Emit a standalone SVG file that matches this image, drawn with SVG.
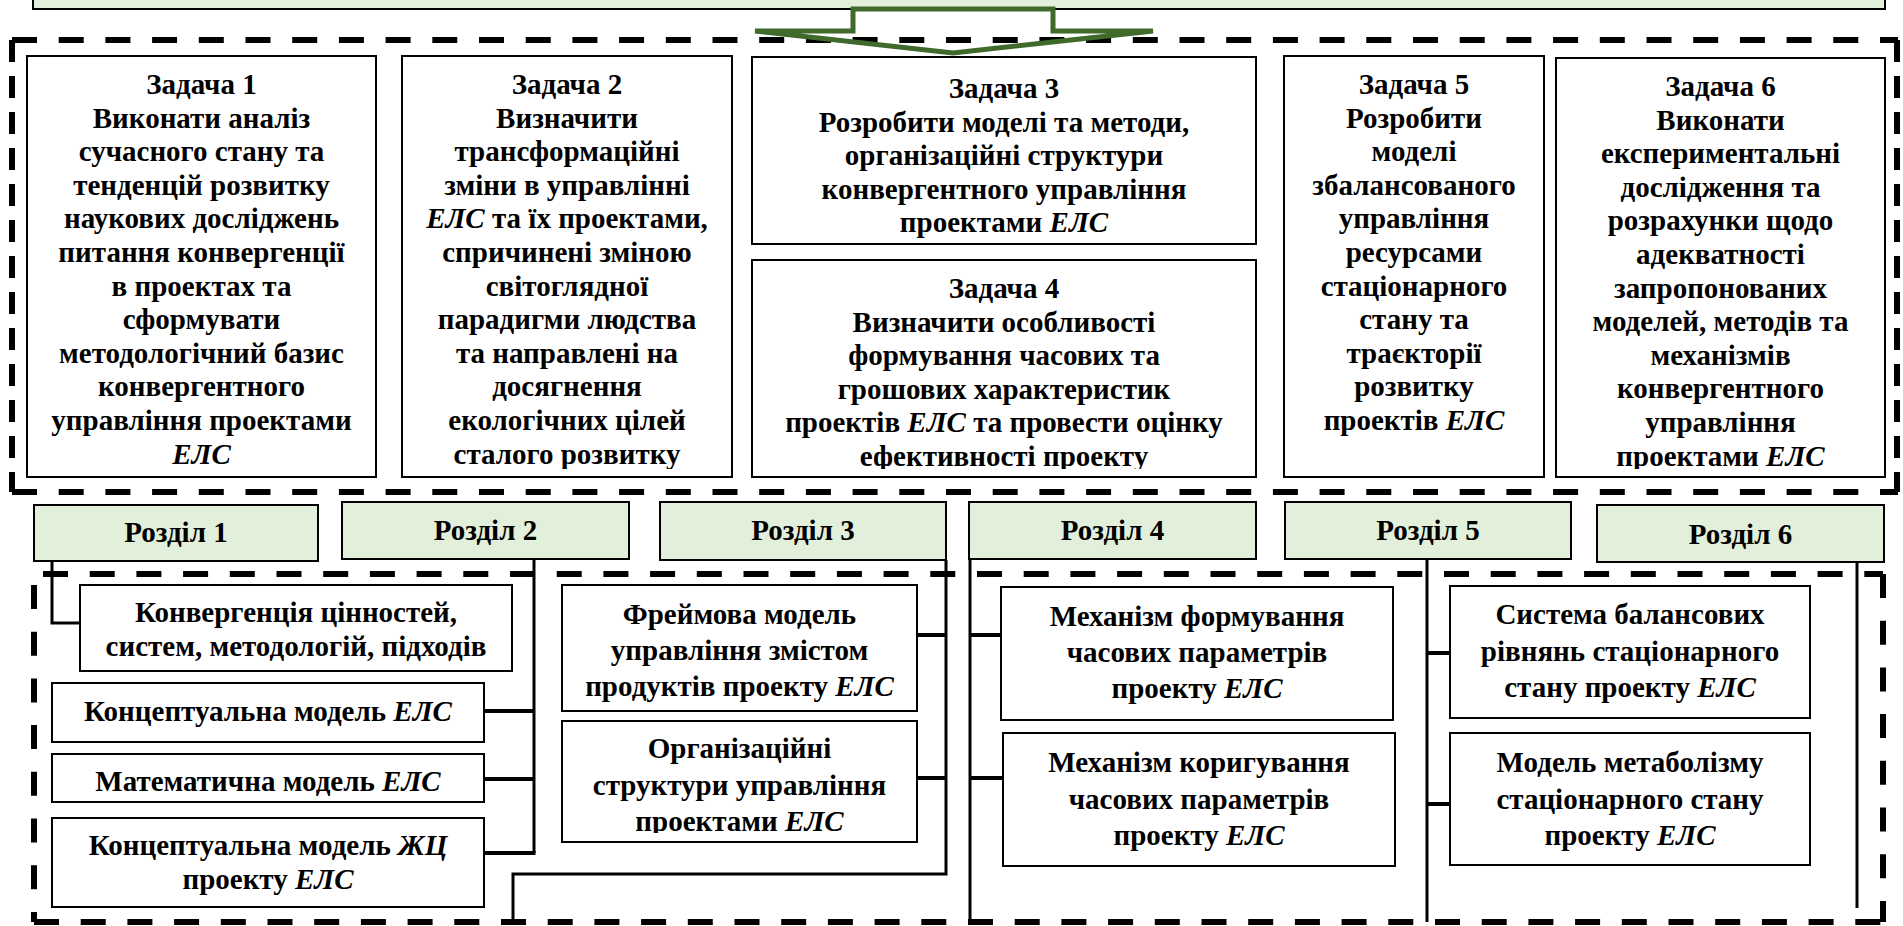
<svg xmlns="http://www.w3.org/2000/svg" width="1903" height="926" viewBox="0 0 1903 926">
<style>
.box{fill:#fff;stroke:#000;stroke-width:2}
.gbox{fill:#e2efda;stroke:#000;stroke-width:2}
.t{font-family:"Liberation Serif","Times New Roman",serif;font-weight:bold;font-size:29px;text-anchor:middle;fill:#000}
.i{font-style:italic}
.dh{stroke:#000;stroke-width:6;stroke-dasharray:25 21.7;fill:none}
.dv1{stroke:#000;stroke-width:6;stroke-dasharray:22 14;fill:none}
.dv2{stroke:#000;stroke-width:6;stroke-dasharray:24 22.7;fill:none}
.c{stroke:#000;stroke-width:3;fill:none}
.s{stroke:#000;stroke-width:4;fill:none}
</style>
<defs>
<clipPath id="clipTask"><rect x="0" y="0" width="1903" height="469"/></clipPath>
<clipPath id="clipOrg"><rect x="0" y="700" width="1903" height="133"/></clipPath>
</defs>

<g id="top-box"><rect class="gbox" x="33" y="-10" width="1852" height="19"/></g>

<g id="frames">
<line class="dh" x1="12" y1="40" x2="1898" y2="40"/>
<line class="dh" x1="12" y1="492" x2="1898" y2="492"/>
<line class="dv1" x1="12" y1="40" x2="12" y2="492"/>
<line class="dv1" x1="1897" y1="40" x2="1897" y2="492"/>
<line class="dh" x1="34" y1="574" x2="1883" y2="574" style="stroke-dashoffset:-9"/>
<line class="dh" x1="34" y1="922" x2="1883" y2="922"/>
<line class="dv2" x1="34" y1="585" x2="34" y2="922"/>
<line class="dv2" x1="1883" y1="574" x2="1883" y2="922"/>
</g>

<g id="arrow"><polygon points="853,9 1053,9 1053,31 1153,31 953,53 755,31 853,31" fill="none" stroke="#3f6a2b" stroke-width="5" stroke-linejoin="miter"/></g>

<g id="task1">
<rect class="box" x="27" y="56" width="349" height="421"/>
<text class="t" clip-path="url(#clipTask)"><tspan x="201.5" y="94">Задача 1</tspan><tspan x="201.5" dy="33.6">Виконати аналіз</tspan><tspan x="201.5" dy="33.6">сучасного стану та</tspan><tspan x="201.5" dy="33.6">тенденцій розвитку</tspan><tspan x="201.5" dy="33.6">наукових досліджень</tspan><tspan x="201.5" dy="33.6">питання конвергенції</tspan><tspan x="201.5" dy="33.6">в проектах та</tspan><tspan x="201.5" dy="33.6">сформувати</tspan><tspan x="201.5" dy="33.6">методологічний базис</tspan><tspan x="201.5" dy="33.6">конвергентного</tspan><tspan x="201.5" dy="33.6">управління проектами</tspan><tspan x="201.5" dy="33.6" class="i">ЕЛС</tspan></text>
</g>

<g id="task2">
<rect class="box" x="402" y="56" width="330" height="421"/>
<text class="t" clip-path="url(#clipTask)"><tspan x="567" y="94">Задача 2</tspan><tspan x="567" dy="33.6">Визначити</tspan><tspan x="567" dy="33.6">трансформаційні</tspan><tspan x="567" dy="33.6">зміни в управлінні</tspan><tspan x="567" dy="33.6"><tspan class="i">ЕЛС</tspan> та їх проектами,</tspan><tspan x="567" dy="33.6">спричинені зміною</tspan><tspan x="567" dy="33.6">світоглядної</tspan><tspan x="567" dy="33.6">парадигми людства</tspan><tspan x="567" dy="33.6">та направлені на</tspan><tspan x="567" dy="33.6">досягнення</tspan><tspan x="567" dy="33.6">екологічних цілей</tspan><tspan x="567" dy="33.6">сталого розвитку</tspan></text>
</g>

<g id="task3">
<rect class="box" x="752" y="57" width="504" height="187"/>
<text class="t"><tspan x="1004" y="98">Задача 3</tspan><tspan x="1004" dy="33.6">Розробити моделі та методи,</tspan><tspan x="1004" dy="33.6">організаційні структури</tspan><tspan x="1004" dy="33.6">конвергентного управління</tspan><tspan x="1004" dy="33.6">проектами <tspan class="i">ЕЛС</tspan></tspan></text>
</g>

<g id="task4">
<rect class="box" x="752" y="260" width="504" height="217"/>
<text class="t" clip-path="url(#clipTask)"><tspan x="1004" y="298">Задача 4</tspan><tspan x="1004" dy="33.6">Визначити особливості</tspan><tspan x="1004" dy="33.6">формування часових та</tspan><tspan x="1004" dy="33.6">грошових характеристик</tspan><tspan x="1004" dy="33.6">проектів <tspan class="i">ЕЛС</tspan> та провести оцінку</tspan><tspan x="1004" dy="33.6">ефективності проекту</tspan></text>
</g>

<g id="task5">
<rect class="box" x="1284" y="56" width="260" height="421"/>
<text class="t"><tspan x="1414" y="94">Задача 5</tspan><tspan x="1414" dy="33.6">Розробити</tspan><tspan x="1414" dy="33.6">моделі</tspan><tspan x="1414" dy="33.6">збалансованого</tspan><tspan x="1414" dy="33.6">управління</tspan><tspan x="1414" dy="33.6">ресурсами</tspan><tspan x="1414" dy="33.6">стаціонарного</tspan><tspan x="1414" dy="33.6">стану та</tspan><tspan x="1414" dy="33.6">траєкторії</tspan><tspan x="1414" dy="33.6">розвитку</tspan><tspan x="1414" dy="33.6">проектів <tspan class="i">ЕЛС</tspan></tspan></text>
</g>

<g id="task6">
<rect class="box" x="1556" y="58" width="329" height="419"/>
<text class="t" clip-path="url(#clipTask)"><tspan x="1720.5" y="96">Задача 6</tspan><tspan x="1720.5" dy="33.6">Виконати</tspan><tspan x="1720.5" dy="33.6">експериментальні</tspan><tspan x="1720.5" dy="33.6">дослідження та</tspan><tspan x="1720.5" dy="33.6">розрахунки щодо</tspan><tspan x="1720.5" dy="33.6">адекватності</tspan><tspan x="1720.5" dy="33.6">запропонованих</tspan><tspan x="1720.5" dy="33.6">моделей, методів та</tspan><tspan x="1720.5" dy="33.6">механізмів</tspan><tspan x="1720.5" dy="33.6">конвергентного</tspan><tspan x="1720.5" dy="33.6">управління</tspan><tspan x="1720.5" dy="33.6">проектами <tspan class="i">ЕЛС</tspan></tspan></text>
</g>

<g id="section1"><rect class="gbox" x="34" y="505" width="284" height="56"/><text class="t" x="176" y="542">Розділ 1</text></g>
<g id="section2"><rect class="gbox" x="342" y="502" width="287" height="57"/><text class="t" x="485.5" y="540">Розділ 2</text></g>
<g id="section3"><rect class="gbox" x="660" y="502" width="286" height="58"/><text class="t" x="803" y="540">Розділ 3</text></g>
<g id="section4"><rect class="gbox" x="969" y="502" width="287" height="57"/><text class="t" x="1112.5" y="540">Розділ 4</text></g>
<g id="section5"><rect class="gbox" x="1285" y="502" width="286" height="57"/><text class="t" x="1428" y="540">Розділ 5</text></g>
<g id="section6"><rect class="gbox" x="1597" y="505" width="287" height="57"/><text class="t" x="1740.5" y="544">Розділ 6</text></g>

<g id="convergence"><rect class="box" x="80" y="585" width="432" height="86"/><text class="t"><tspan x="296" y="622">Конвергенція цінностей,</tspan><tspan x="296" dy="34">систем, методологій, підходів</tspan></text></g>
<g id="concept-els"><rect class="box" x="52" y="683" width="432" height="59"/><text class="t" x="268" y="721">Концептуальна модель <tspan class="i">ЕЛС</tspan></text></g>
<g id="math-els"><rect class="box" x="52" y="754" width="432" height="48"/><text class="t" x="268" y="791">Математична модель <tspan class="i">ЕЛС</tspan></text></g>
<g id="concept-lc"><rect class="box" x="52" y="818" width="432" height="89"/><text class="t"><tspan x="268" y="855">Концептуальна модель <tspan class="i">ЖЦ</tspan></tspan><tspan x="268" dy="34">проекту <tspan class="i">ЕЛС</tspan></tspan></text></g>

<g id="frame-model"><rect class="box" x="562" y="585" width="355" height="126"/><text class="t"><tspan x="739.5" y="624">Фреймова модель</tspan><tspan x="739.5" dy="36">управління змістом</tspan><tspan x="739.5" dy="36">продуктів проекту <tspan class="i">ЕЛС</tspan></tspan></text></g>
<g id="org-structures"><rect class="box" x="562" y="721" width="355" height="121"/><text class="t" clip-path="url(#clipOrg)"><tspan x="739.5" y="758">Організаційні</tspan><tspan x="739.5" dy="36.5">структури управління</tspan><tspan x="739.5" dy="36.5">проектами <tspan class="i">ЕЛС</tspan></tspan></text></g>

<g id="mech-form"><rect class="box" x="1001" y="587" width="392" height="133"/><text class="t"><tspan x="1197" y="626">Механізм формування</tspan><tspan x="1197" dy="36">часових параметрів</tspan><tspan x="1197" dy="36">проекту <tspan class="i">ЕЛС</tspan></tspan></text></g>
<g id="mech-corr"><rect class="box" x="1003" y="733" width="392" height="133"/><text class="t"><tspan x="1199" y="772">Механізм коригування</tspan><tspan x="1199" dy="36.5">часових параметрів</tspan><tspan x="1199" dy="36.5">проекту <tspan class="i">ЕЛС</tspan></tspan></text></g>

<g id="balance"><rect class="box" x="1450" y="586" width="360" height="132"/><text class="t"><tspan x="1630" y="624">Система балансових</tspan><tspan x="1630" dy="36.5">рівнянь стаціонарного</tspan><tspan x="1630" dy="36.5">стану проекту <tspan class="i">ЕЛС</tspan></tspan></text></g>
<g id="metabolism"><rect class="box" x="1450" y="733" width="360" height="132"/><text class="t"><tspan x="1630" y="772">Модель метаболізму</tspan><tspan x="1630" dy="36.5">стаціонарного стану</tspan><tspan x="1630" dy="36.5">проекту <tspan class="i">ЕЛС</tspan></tspan></text></g>

<g id="connectors">
<path class="c" d="M52 561 V623 H80"/>
<path class="c" d="M534 559 V853"/>
<path class="s" d="M484 853 H535.5 M484 711 H534 M484 779 H534"/>
<path class="c" d="M946 560 V874 H513 V922"/>
<path class="s" d="M917 635 H946 M917 778 H946"/>
<path class="c" d="M970 559 V922"/>
<path class="s" d="M970 635 H1001 M970 778 H1003"/>
<path class="c" d="M1427 559 V922"/>
<path class="s" d="M1427 653 H1450 M1427 804 H1450"/>
<path class="c" d="M1857 562 V908"/>
</g>
</svg>
